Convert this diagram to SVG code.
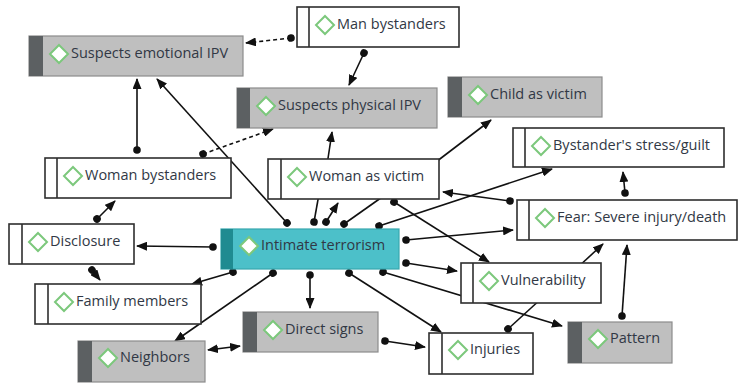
<svg xmlns="http://www.w3.org/2000/svg" width="740" height="384" viewBox="0 0 740 384">
  <style>
    .lnk { fill: none; stroke: #111; stroke-width: 1.6; }
    .dash { stroke-dasharray: 4 3; }
    .lbl { font-family: "Open Sans", "Noto Sans", "Liberation Sans", sans-serif; font-size: 14.5px; fill: #313845; }
    .box-w { fill: #ffffff; stroke: #2e2e2e; stroke-width: 1.6; }
    .sep { stroke: #2e2e2e; stroke-width: 1.6; }
    .box-g { fill: #bfbfbf; stroke: #8c8c8c; stroke-width: 1.2; }
    .bar-g { fill: #5c6062; }
    .box-t { fill: #4cc0c9; stroke: #37a7af; stroke-width: 1.2; }
    .bar-t { fill: #1f8b91; }
  </style>
  <defs>
    <marker id="arrow" markerWidth="11" markerHeight="9" refX="10" refY="4.5" orient="auto" markerUnits="userSpaceOnUse">
      <path d="M0,0 L11,4.5 L0,9 Z" fill="#111"/>
    </marker>
    <marker id="arrow2" markerWidth="11" markerHeight="9" refX="10" refY="4.5" orient="auto-start-reverse" markerUnits="userSpaceOnUse">
      <path d="M0,0 L11,4.5 L0,9 Z" fill="#111"/>
    </marker>
    <marker id="dot" markerWidth="9" markerHeight="9" refX="4.5" refY="4.5" orient="auto" markerUnits="userSpaceOnUse">
      <circle cx="4.5" cy="4.5" r="3.8" fill="#111"/>
    </marker>
    <path id="gem" d="M0,-9 L9,0 L0,9 L-9,0 Z" fill="#ffffff" stroke="#7cc87c" stroke-width="2"/>
  </defs>

  <!-- connectors (drawn beneath the nodes) -->
  <g id="connectors">
    <line class="lnk dash" x1="291" y1="38" x2="246" y2="43" marker-start="url(#dot)" marker-end="url(#arrow)"/>
    <line class="lnk" x1="364" y1="53" x2="349" y2="85" marker-start="url(#dot)" marker-end="url(#arrow)"/>
    <line class="lnk" x1="137" y1="150" x2="137" y2="79" marker-start="url(#dot)" marker-end="url(#arrow)"/>
    <line class="lnk dash" x1="203" y1="154" x2="273" y2="129" marker-start="url(#dot)" marker-end="url(#arrow)"/>
    <line class="lnk" x1="287" y1="223" x2="157" y2="79" marker-start="url(#dot)" marker-end="url(#arrow)"/>
    <line class="lnk" x1="327" y1="165" x2="332" y2="132" marker-end="url(#arrow)"/>
    <line class="lnk" x1="432" y1="165" x2="491" y2="120" marker-end="url(#arrow)"/>
    <line class="lnk" x1="314" y1="222" x2="319" y2="194" marker-start="url(#dot)"/>
    <line class="lnk" x1="326" y1="222" x2="338" y2="203" marker-start="url(#dot)" marker-end="url(#arrow)"/>
    <line class="lnk" x1="344" y1="224" x2="385" y2="195" marker-start="url(#dot)"/>
    <line class="lnk" x1="379" y1="226" x2="552" y2="169" marker-start="url(#dot)" marker-end="url(#arrow)"/>
    <line class="lnk" x1="394" y1="202" x2="489" y2="262" marker-start="url(#dot)" marker-end="url(#arrow)"/>
    <line class="lnk" x1="510" y1="201" x2="443" y2="192" marker-start="url(#dot)" marker-end="url(#arrow)"/>
    <line class="lnk" x1="406" y1="240" x2="513" y2="230" marker-start="url(#dot)" marker-end="url(#arrow)"/>
    <line class="lnk" x1="406" y1="263" x2="457" y2="271" marker-start="url(#dot)" marker-end="url(#arrow)"/>
    <line class="lnk" x1="577" y1="268" x2="603" y2="244" marker-end="url(#arrow)"/>
    <line class="lnk" x1="625" y1="193" x2="623" y2="172" marker-start="url(#dot)" marker-end="url(#arrow)"/>
    <line class="lnk" x1="622" y1="316" x2="627" y2="245" marker-start="url(#dot)" marker-end="url(#arrow)"/>
    <line class="lnk" x1="508" y1="329" x2="542" y2="298" marker-start="url(#dot)"/>
    <line class="lnk" x1="383" y1="272" x2="562" y2="326" marker-start="url(#dot)" marker-end="url(#arrow)"/>
    <line class="lnk" x1="349" y1="273" x2="441" y2="332" marker-start="url(#dot)" marker-end="url(#arrow)"/>
    <line class="lnk" x1="310" y1="275" x2="310" y2="308" marker-start="url(#dot)" marker-end="url(#arrow)"/>
    <line class="lnk" x1="273" y1="273" x2="175" y2="341" marker-start="url(#dot)" marker-end="url(#arrow)"/>
    <line class="lnk" x1="233" y1="272" x2="192" y2="284" marker-start="url(#dot)" marker-end="url(#arrow)"/>
    <line class="lnk" x1="208" y1="350" x2="240" y2="346" marker-start="url(#arrow2)" marker-end="url(#arrow2)"/>
    <line class="lnk" x1="385" y1="341" x2="425" y2="347" marker-start="url(#dot)" marker-end="url(#arrow)"/>
    <line class="lnk" x1="213" y1="247" x2="137" y2="246" marker-start="url(#dot)" marker-end="url(#arrow)"/>
    <line class="lnk" x1="97" y1="219" x2="115" y2="201" marker-start="url(#dot)" marker-end="url(#arrow)"/>
    <line class="lnk" x1="92" y1="270" x2="100" y2="280" marker-start="url(#dot)" marker-end="url(#arrow)"/>
  </g>

  <!-- nodes -->
  <g id="suspects-emotional-ipv">
    <rect class="box-g" x="29" y="36" width="214" height="40"/>
    <rect class="bar-g" x="29" y="36" width="14" height="40"/>
    <use href="#gem" x="59" y="54"/>
    <text class="lbl" x="71" y="58">Suspects emotional IPV</text>
  </g>
  <g id="man-bystanders">
    <rect class="box-w" x="297" y="7" width="162" height="40"/>
    <line class="sep" x1="309" y1="7" x2="309" y2="47"/>
    <use href="#gem" x="325" y="25"/>
    <text class="lbl" x="337" y="29">Man bystanders</text>
  </g>
  <g id="suspects-physical-ipv">
    <rect class="box-g" x="237" y="88" width="200" height="40"/>
    <rect class="bar-g" x="237" y="88" width="13" height="40"/>
    <use href="#gem" x="266" y="106"/>
    <text class="lbl" x="278" y="110">Suspects physical IPV</text>
  </g>
  <g id="child-as-victim">
    <rect class="box-g" x="448" y="77" width="154" height="40"/>
    <rect class="bar-g" x="448" y="77" width="14" height="40"/>
    <use href="#gem" x="478" y="95"/>
    <text class="lbl" x="490" y="99">Child as victim</text>
  </g>
  <g id="bystanders-stress-guilt">
    <rect class="box-w" x="513" y="128" width="211" height="39"/>
    <line class="sep" x1="525" y1="128" x2="525" y2="167"/>
    <use href="#gem" x="541" y="146"/>
    <text class="lbl" x="553" y="150">Bystander's stress/guilt</text>
  </g>
  <g id="woman-bystanders">
    <rect class="box-w" x="45" y="158" width="186" height="40"/>
    <line class="sep" x1="57" y1="158" x2="57" y2="198"/>
    <use href="#gem" x="73" y="176"/>
    <text class="lbl" x="85" y="180">Woman bystanders</text>
  </g>
  <g id="woman-as-victim">
    <rect class="box-w" x="268" y="159" width="171" height="40"/>
    <line class="sep" x1="281" y1="159" x2="281" y2="199"/>
    <use href="#gem" x="297" y="177"/>
    <text class="lbl" x="309" y="181">Woman as victim</text>
  </g>
  <g id="disclosure">
    <rect class="box-w" x="9" y="224" width="125" height="40"/>
    <line class="sep" x1="22" y1="224" x2="22" y2="264"/>
    <use href="#gem" x="38" y="242"/>
    <text class="lbl" x="50" y="246">Disclosure</text>
  </g>
  <g id="intimate-terrorism">
    <rect class="box-t" x="221" y="229" width="178" height="40"/>
    <rect class="bar-t" x="221" y="229" width="12" height="40"/>
    <use href="#gem" x="249" y="246"/>
    <text class="lbl" x="261" y="250">Intimate terrorism</text>
  </g>
  <g id="fear-severe-injury-death">
    <rect class="box-w" x="517" y="200" width="220" height="40"/>
    <line class="sep" x1="529" y1="200" x2="529" y2="240"/>
    <use href="#gem" x="545" y="218"/>
    <text class="lbl" x="557" y="222">Fear: Severe injury/death</text>
  </g>
  <g id="vulnerability">
    <rect class="box-w" x="461" y="263" width="140" height="40"/>
    <line class="sep" x1="473" y1="263" x2="473" y2="303"/>
    <use href="#gem" x="489" y="281"/>
    <text class="lbl" x="501" y="285">Vulnerability</text>
  </g>
  <g id="family-members">
    <rect class="box-w" x="35" y="284" width="166" height="40"/>
    <line class="sep" x1="48" y1="284" x2="48" y2="324"/>
    <use href="#gem" x="64" y="302"/>
    <text class="lbl" x="76" y="306">Family members</text>
  </g>
  <g id="direct-signs">
    <rect class="box-g" x="243" y="312" width="135" height="40"/>
    <rect class="bar-g" x="243" y="312" width="14" height="40"/>
    <use href="#gem" x="273" y="330"/>
    <text class="lbl" x="285" y="334">Direct signs</text>
  </g>
  <g id="neighbors">
    <rect class="box-g" x="78" y="341" width="127" height="41"/>
    <rect class="bar-g" x="78" y="341" width="14" height="41"/>
    <use href="#gem" x="108" y="358"/>
    <text class="lbl" x="120" y="362">Neighbors</text>
  </g>
  <g id="pattern">
    <rect class="box-g" x="568" y="322" width="104" height="41"/>
    <rect class="bar-g" x="568" y="322" width="14" height="41"/>
    <use href="#gem" x="598" y="339"/>
    <text class="lbl" x="610" y="343">Pattern</text>
  </g>
  <g id="injuries">
    <rect class="box-w" x="429" y="333" width="104" height="41"/>
    <line class="sep" x1="442" y1="333" x2="442" y2="374"/>
    <use href="#gem" x="458" y="350"/>
    <text class="lbl" x="470" y="354">Injuries</text>
  </g>
</svg>
